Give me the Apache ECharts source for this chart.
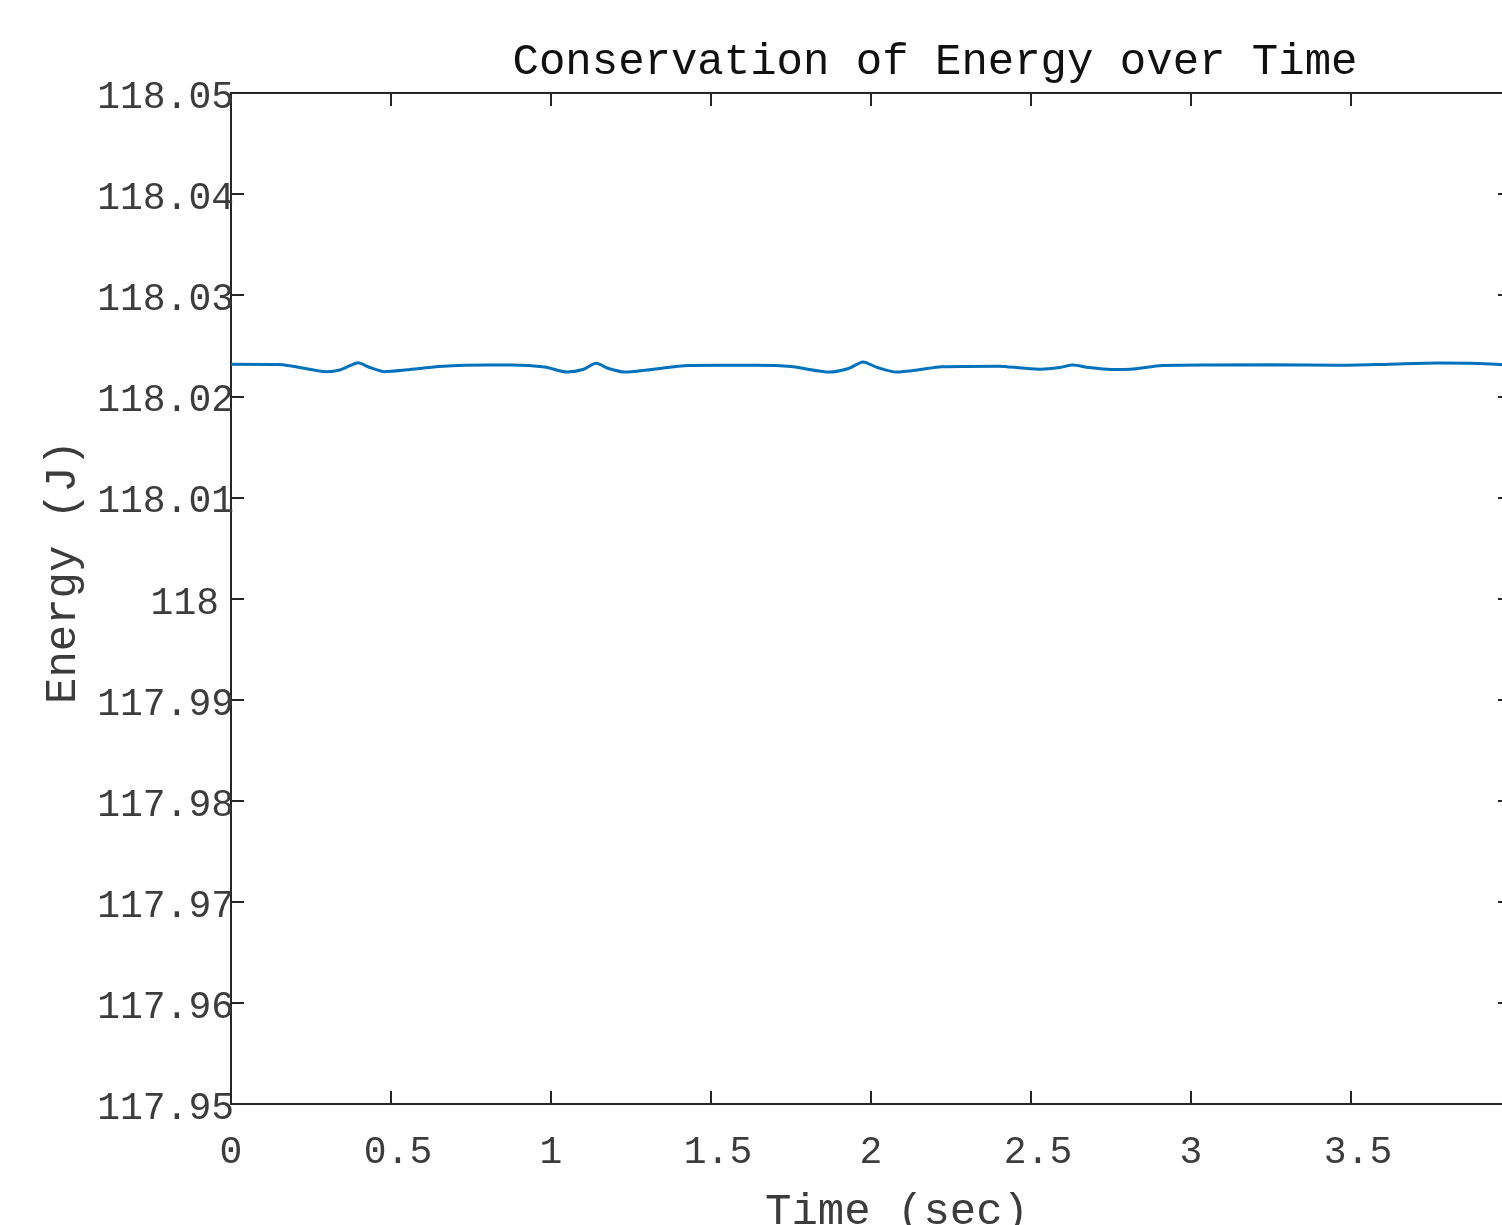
<!DOCTYPE html>
<html>
<head>
<meta charset="utf-8">
<script src="https://cdn.jsdelivr.net/npm/echarts@6/dist/echarts.min.js"></script>
<style>
  html, body { margin: 0; padding: 0; background: #fff; overflow: hidden; }
  #chart { width: 1520px; height: 1225px; }
</style>
</head>
<body>
<div id="chart"></div>
<script>
// data
const timeSec = [0, 0.15, 0.30, 0.34, 0.37, 0.397, 0.43, 0.48, 0.55, 0.65, 0.73, 0.88, 0.98, 1.05, 1.10, 1.141, 1.18, 1.23, 1.30, 1.43, 1.64, 1.75, 1.87, 1.93, 1.975, 2.02, 2.08, 2.15, 2.22, 2.40, 2.47, 2.53, 2.59, 2.631, 2.68, 2.75, 2.82, 2.91, 3.25, 3.46, 3.62, 3.77, 3.90, 4.0];
const energyJ = [118.02317, 118.02315, 118.02243, 118.02260, 118.02300, 118.02332, 118.02290, 118.02243, 118.02262, 118.02295, 118.02308, 118.02310, 118.02290, 118.02240, 118.02265, 118.02326, 118.02275, 118.02240, 118.02260, 118.02305, 118.02307, 118.02295, 118.02240, 118.02275, 118.02339, 118.02285, 118.02240, 118.02262, 118.02293, 118.02298, 118.02280, 118.02268, 118.02285, 118.02310, 118.02285, 118.02265, 118.02270, 118.02305, 118.02312, 118.02307, 118.02318, 118.02329, 118.02325, 118.02310];
const xTicks = [0, 0.5, 1, 1.5, 2, 2.5, 3, 3.5, 4];
const yTicks = [117.95, 117.96, 117.97, 117.98, 117.99, 118, 118.01, 118.02, 118.03, 118.04, 118.05];

const FONT = '"Liberation Mono", "Courier New", monospace';
const INK = '#262626';
const LABEL = '#3c3c3c';

const chart = echarts.init(document.getElementById('chart'));

function axisCommon() {
    return {
        axisLine: { show: true, onZero: false, lineStyle: { color: INK, width: 2 } },
        axisTick: { show: true, inside: true, length: 13, lineStyle: { color: INK, width: 2 } },
        splitLine: { show: false }
    };
}

const fmt = v => String(parseFloat(v.toFixed(2)));
const labelStyle = { color: LABEL, fontFamily: FONT, fontSize: 38 };

const xBase = { type: 'value', min: xTicks[0], max: xTicks[xTicks.length - 1], interval: 0.5 };
const yBase = { type: 'value', min: yTicks[0], max: yTicks[yTicks.length - 1], interval: 0.01 };

chart.setOption({
    animation: false,
    backgroundColor: '#fff',
    grid: { left: 231, top: 93, width: 1280, height: 1011, outerBoundsMode: 'none', containLabel: false },
    xAxis: [
        Object.assign({}, xBase, axisCommon(), {
            position: 'bottom',
            axisLabel: Object.assign({}, labelStyle, {
                margin: 30, showMaxLabel: false,
                formatter: v => {
                    const s = fmt(v);
                    return s.indexOf('.') >= 0 ? '{d|' + s + '}' : s;
                },
                rich: { d: Object.assign({}, labelStyle, { padding: [0, 0, 0, 14] }) }
            })
        }),
        Object.assign({}, xBase, axisCommon(), { position: 'top', axisLabel: { show: false } })
    ],
    yAxis: [
        Object.assign({}, yBase, axisCommon(), {
            position: 'left',
            axisLabel: Object.assign({}, labelStyle, {
                margin: -3, verticalAlign: 'top', lineHeight: 10,
                formatter: v => {
                    const s = fmt(v);
                    return s.indexOf('.') >= 0 ? s : '{i|' + s + '}';
                },
                rich: { i: Object.assign({}, labelStyle, { lineHeight: 10, padding: [0, 15, 0, 0] }) }
            })
        }),
        Object.assign({}, yBase, axisCommon(), { position: 'right', axisLabel: { show: false } })
    ],
    series: [{
        type: 'line',
        data: timeSec.map((t, i) => [t, energyJ[i]]),
        showSymbol: false,
        smooth: 0.25,
        lineStyle: { color: '#0072BD', width: 3 }
    }],
    graphic: [
        {
            type: 'text', x: 935, y: 62,
            style: { text: 'Conservation of Energy over Time', font: '44px ' + FONT, fill: '#111', textAlign: 'center', textVerticalAlign: 'middle' }
        },
        {
            type: 'text', x: 897, y: 1212,
            style: { text: 'Time (sec)', font: '44px ' + FONT, fill: LABEL, textAlign: 'center', textVerticalAlign: 'middle' }
        },
        {
            type: 'text', x: 63, y: 572, rotation: Math.PI / 2,
            style: { text: 'Energy (J)', font: '44px ' + FONT, fill: LABEL, textAlign: 'center', textVerticalAlign: 'middle' }
        }
    ]
});
</script>
</body>
</html>
